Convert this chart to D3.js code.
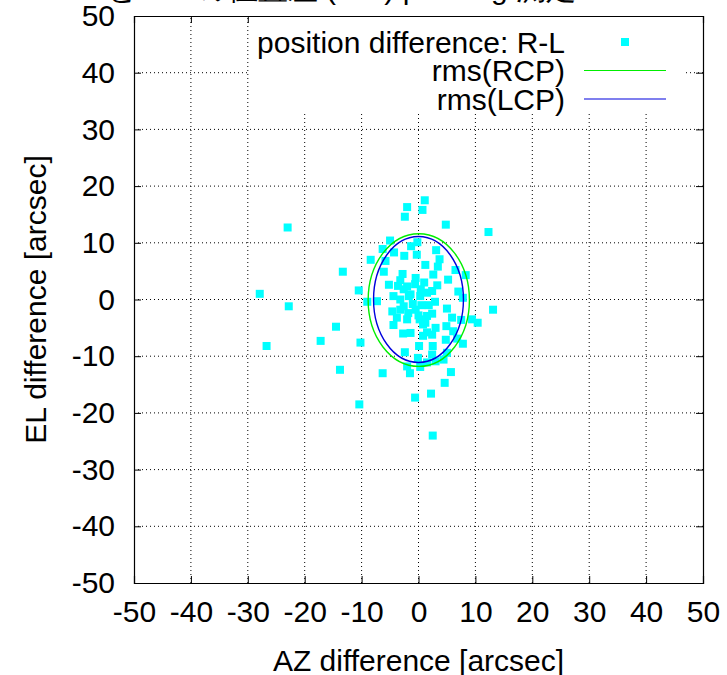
<!DOCTYPE html>
<html>
<head>
<meta charset="utf-8">
<script src="https://cdn.jsdelivr.net/npm/d3@7"></script>
<style>
  body { margin: 0; background: #fff; }
  svg text { font-family: "Liberation Sans", Arial, sans-serif; fill: #000; }
</style>
</head>
<body>
<svg id="chart" width="727" height="675"></svg>
<script>
// R-L position differences [arcsec]
const azDiff = [-23.0, -27.9, -22.8, -26.7, -17.2, -14.5, -13.3, -13.8, -10.5, -8.4,
  -10.2, -9.0, -7.3, -6.3, -10.4, -2.0, 1.1, 0.7, -2.4, 4.8,
  12.3, -5.0, -0.2, -1.3, -6.3, -4.3, -2.5, -0.3, 3.1, 3.7,
  -5.8, -6.1, -2.8, 1.2, 3.4, 2.6, 6.5, 8.3, 5.2, -5.2,
  -3.6, -2.0, -3.2, 3.3, 7.0, 7.8, 2.4, 1.5, 0.3, -1.4,
  -3.2, -4.4, -1.7, 0.4, -2.6, 2.9, 5.0, 13.1, -4.6, -2.6,
  -0.5, -3.2, 2.4, 1.5, 5.9, 7.5, 9.4, 10.4, 0.8, 3.0,
  4.9, -4.4, 1.2, -1.4, -2.7, 0.8, 1.5, 6.1, 4.8, 6.8,
  7.8, 2.4, 0.1, 2.5, -2.4, 2.4, 5.0, -0.1, 3.0, 4.4,
  1.5, -2.0, 0.3, -1.5, 5.7, 4.6, 2.2, -0.6, 2.5,
  -1.0, 0.0, -2.0, 1.0, -0.5, 0.5, -1.8, -0.6, 1.8, -3.8, 0.2];
const elDiff = [12.7, 1.0, -1.2, -8.2, -7.3, -4.8, 4.9, -12.4, 1.6, 7.0,
  -7.6, -0.4, -0.3, -13.0, -18.5, 16.3, 17.5, 15.8, 14.6, 13.2,
  11.9, 10.4, 10.1, 9.4, 8.9, 8.3, 7.7, 7.9, 8.7, 7.1,
  6.8, 4.9, 4.5, 6.1, 5.8, 4.4, 5.2, 4.3, 3.5, 2.6,
  2.4, 2.3, 3.4, 2.5, 1.4, 0.3, 1.5, 1.2, 0.6, 0.9,
  0.0, 0.6, 0.6, 1.8, 1.8, -0.4, -1.6, -1.8, -2.1, -1.2,
  -1.8, -1.8, -2.5, -2.9, -3.2, -3.6, -3.5, -4.1, -4.4, -5.0,
  -4.7, -4.5, -4.1, -5.9, -6.0, -6.4, -5.8, -5.6, -7.1, -6.9,
  -7.8, -6.2, -8.2, -8.2, -9.3, -9.7, -9.4, -10.3, -10.9, -10.6,
  -11.1, -11.8, -11.9, -13.0, -12.8, -14.7, -16.6, -17.3, -24.0,
  -0.8, -2.8, -3.5, 3.0, 3.8, -1.0, -2.4, 2.7, -1.0, -3.2, -3.5];

// rms ellipses: [centre az, centre el, radius az, radius el]
const rmsNames = ["rms(RCP)", "rms(LCP)"];
const rmsEllipse = [[0.05, -0.1, 8.9, 11.7], [0.0, 0.0, 7.9, 11.1]];
const rmsColors = ["#00ee00", "#0000dd"];

const tickValues = [-50, -40, -30, -20, -10, 0, 10, 20, 30, 40, 50];

const svg = d3.select("#chart");
const margin = {left: 134, right: 24, top: 16, bottom: 92};
const W = 727, H = 675;

const x = d3.scaleLinear().domain([-50, 50]).range([margin.left, W - margin.right]);
const y = d3.scaleLinear().domain([-50, 50]).range([H - margin.bottom, margin.top]);

// title (cut off at the top of the picture)
svg.append("text")
  .attr("x", 310).attr("y", -1)
  .attr("text-anchor", "middle")
  .style("font-size", "30px")
  .text("RCPとLCPの位置差 (R-L) pointing 測定");

// grid
const grid = svg.append("g").attr("class", "grid");
grid.selectAll("line.gx").data(tickValues.slice(1, -1)).enter().append("line")
  .attr("x1", d => x(d)).attr("x2", d => x(d))
  .attr("y1", y(-50)).attr("y2", y(50))
  .attr("stroke", "#000").attr("stroke-width", 1).attr("stroke-dasharray", "1,3");
grid.selectAll("line.gy").data(tickValues.slice(1, -1)).enter().append("line")
  .attr("y1", d => y(d)).attr("y2", d => y(d))
  .attr("x1", x(-50)).attr("x2", x(50))
  .attr("stroke", "#000").attr("stroke-width", 1).attr("stroke-dasharray", "1,3");

// axes with inward ticks on all four sides
const tl = 7;
const fmt = d => String(d);
svg.append("g").attr("transform", `translate(0,${y(-50)})`)
  .call(d3.axisBottom(x).tickValues(tickValues).tickSize(-tl).tickPadding(18).tickFormat(fmt));
svg.append("g").attr("transform", `translate(0,${y(50)})`)
  .call(d3.axisTop(x).tickValues(tickValues).tickSize(-tl).tickFormat(""));
svg.append("g").attr("transform", `translate(${x(-50)},0)`)
  .call(d3.axisLeft(y).tickValues(tickValues).tickSize(-tl).tickPadding(19).tickFormat(fmt));
svg.append("g").attr("transform", `translate(${x(50)},0)`)
  .call(d3.axisRight(y).tickValues(tickValues).tickSize(-tl).tickFormat(""));

svg.selectAll(".domain").attr("stroke", "#000").attr("stroke-width", 1.2);
svg.selectAll(".tick line").attr("stroke", "#000");
svg.selectAll(".tick text")
  .style("font-size", "30px")
  .style("font-family", "'Liberation Sans', Arial, sans-serif")
  .attr("fill", "#000");

// legend background (opaque key)
svg.append("rect")
  .attr("x", 250).attr("y", y(50) + 1)
  .attr("width", 433).attr("height", 96)
  .attr("fill", "#fff");

// data points
const pts = azDiff.map((a, i) => [a, elDiff[i]]);
svg.append("g").selectAll("rect").data(pts).enter().append("rect")
  .attr("x", d => x(d[0]) - 4).attr("y", d => y(d[1]) - 4)
  .attr("width", 8).attr("height", 8)
  .attr("fill", "#00ffff");

// rms ellipses
svg.append("g").selectAll("ellipse").data(rmsEllipse).enter().append("ellipse")
  .attr("cx", d => x(d[0])).attr("cy", d => y(d[1]))
  .attr("rx", d => x(d[2]) - x(0)).attr("ry", d => y(0) - y(d[3]))
  .attr("fill", "none")
  .attr("stroke", (d, i) => rmsColors[i])
  .attr("stroke-width", 1.4);

// legend
const legX = 565, legY = 42, legDy = 28.5;
const leg = svg.append("g");
const legLabels = ["position difference: R-L"].concat(rmsNames);
leg.selectAll("text").data(legLabels).enter().append("text")
  .attr("x", legX).attr("y", (d, i) => legY + i * legDy)
  .attr("text-anchor", "end").attr("dominant-baseline", "central")
  .style("font-size", "30px")
  .text(d => d);
leg.append("rect")
  .attr("x", 621).attr("y", legY - 4).attr("width", 8).attr("height", 8)
  .attr("fill", "#00ffff");
leg.selectAll("line").data(rmsColors).enter().append("line")
  .attr("x1", 584).attr("x2", 666)
  .attr("y1", (d, i) => legY + (i + 1) * legDy).attr("y2", (d, i) => legY + (i + 1) * legDy)
  .attr("stroke", d => d).attr("stroke-width", 1.2);

// axis titles
svg.append("text")
  .attr("x", x(0)).attr("y", 660)
  .attr("text-anchor", "middle").attr("dominant-baseline", "central")
  .style("font-size", "30px")
  .text("AZ difference [arcsec]");
svg.append("text")
  .attr("transform", `translate(35,${y(0)}) rotate(-90)`)
  .attr("text-anchor", "middle").attr("dominant-baseline", "central")
  .style("font-size", "30px")
  .text("EL difference [arcsec]");
</script>
</body>
</html>
